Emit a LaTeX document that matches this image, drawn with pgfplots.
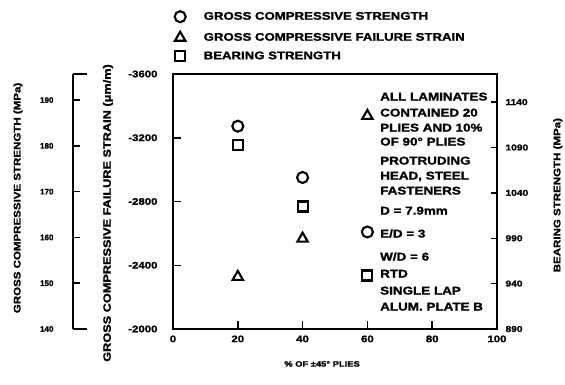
\documentclass[border=0pt]{standalone}
\usepackage{pgfplots}
\pgfplotsset{compat=1.18}
\usepackage{fontspec}
\newfontfamily\cf{Liberation Sans Bold}[FakeStretch=1.2, FakeBold=1.5]
\newfontfamily\cfn{Liberation Sans Bold}[FakeBold=1.5]
\newcommand\fs[1]{\fontsize{#1}{#1}\selectfont}
\pgfplotsset{
  mk/.style={only marks, mark size=5.5pt, line width=2.1pt, black, mark options={solid}},
  boxax/.style={at={(173pt,55pt)}, anchor=south west, scale only axis, width=324pt, height=255pt, xmin=0, xmax=100},
}
\begin{document}
\begin{tikzpicture}[x=1pt,y=1pt]
\useasboundingbox (0,0) rectangle (565,384);

% main axis: strain
\begin{axis}[boxax,
  ymin=-3600, ymax=-2000, y dir=reverse,
  xtick={0,20,40,60,80,100}, xticklabels={0,20,40,60,80,100},
  ytick={-3600,-3200,-2800,-2400,-2000}, yticklabels={-3600,-3200,-2800,-2400,-2000},
  xtick pos=lower, ytick pos=left, tick align=inside, major tick length=8pt,
  axis line style={line width=1.6pt}, tick style={line width=1.5pt, black},
  y tick label style={font=\cf\fs{9.5}, xshift=-12pt},
  x tick label style={font=\cf\fs{9.5}, yshift=-3pt},
  ylabel={GROSS COMPRESSIVE FAILURE STRAIN (μm/m)},
  ylabel style={font=\cf\fs{10.6}, at={(axis description cs:-0.2006,0.455)}, anchor=center},
  xlabel={\% OF ±45° PLIES},
  xlabel style={font=\cf\fs{7.8}, at={(axis description cs:0.46,-0.137)}, anchor=center},
  legend style={at={(axis description cs:0.0046,1.247)}, anchor=north west, draw=none, fill=none,
    inner sep=0pt, row sep=9.5pt, column sep=18pt,
    nodes={inner sep=0pt, text height=7pt, text depth=1pt, font=\cf\fs{11}}},
  legend cell align=left,
]
\addlegendimage{mk, mark=o}
\addlegendentry{GROSS COMPRESSIVE STRENGTH}
\addlegendimage{mk, mark=triangle, mark size=6pt}
\addlegendentry{GROSS COMPRESSIVE FAILURE STRAIN}
\addlegendimage{mk, mark=square, mark size=5pt}
\addlegendentry{BEARING STRENGTH}
\addplot[mk, mark=triangle, mark size=6pt, forget plot] coordinates {(20,-2327) (40,-2567) (60,-3337)};
\end{axis}

% bearing strength axis (right)
\begin{axis}[boxax,
  ymin=890, ymax=1171,
  axis x line=none, axis y line*=right, axis line style={-, line width=1.6pt},
  ytick={890,940,990,1040,1090,1140}, yticklabels={890,940,990,1040,1090,1140},
  tick align=inside, major tick length=6pt, tick style={line width=1.5pt, black},
  y tick label style={font=\cf\fs{8.5}, xshift=5pt},
  ylabel={BEARING STRENGTH (MPa)},
  ylabel style={font=\cf\fs{9.6}, at={(axis description cs:1.188,0.525)}, anchor=center, rotate=0},
]
\addplot[mk, mark=square, mark size=5pt] coordinates {(20,1093) (40,1025) (60,949)};
\end{axis}

% compressive strength data (shares left bracket scale)
\begin{axis}[boxax, ymin=140, ymax=195.7, hide axis]
\addplot[mk, mark=o] coordinates {(20,184.3) (40,173.1) (60,161.2)};
\end{axis}

% left bracket scale
\begin{axis}[at={(73pt,55pt)}, anchor=south west, scale only axis, width=14pt, height=255pt,
  xmin=0, xmax=1, ymin=140, ymax=195.7,
  axis x line=none, axis y line*=left, axis line style={-, line width=1.6pt},
  ytick={140,150,160,170,180,190}, yticklabels={140,150,160,170,180,190},
  tick align=inside, major tick length=7pt, tick style={line width=1.5pt, black},
  y tick label style={font=\cfn\fs{8}, xshift=-16pt},
  ylabel={GROSS COMPRESSIVE STRENGTH (MPa)},
  ylabel style={font=\cf\fs{9.6}, at={(axis description cs:-3.93,0.514)}, anchor=center},
  clip=false,
]
\draw[line width=1.6pt] (rel axis cs:0,0) -- (rel axis cs:1,0);
\draw[line width=1.6pt] (rel axis cs:0,1) -- (rel axis cs:1,1);
\end{axis}

% annotation block
\begin{scope}[every node/.style={anchor=west, inner sep=0pt, text height=7.5pt, text depth=0pt, font=\cf\fs{11.2}}]
\node at (380,{384-93-3.75}) {ALL LAMINATES};
\node at (380,{384-109-3.75}) {CONTAINED 20};
\node at (380,{384-124-3.75}) {PLIES AND 10\%};
\node at (380,{384-138-3.75}) {OF 90° PLIES};
\node at (380,{384-157-3.75}) {PROTRUDING};
\node at (380,{384-172-3.75}) {HEAD, STEEL};
\node at (380,{384-187-3.75}) {FASTENERS};
\node at (380,{384-207-3.75}) {D = 7.9mm};
\node at (380,{384-230-3.75}) {E/D = 3};
\node at (380,{384-253-3.75}) {W/D = 6};
\node at (380,{384-270-3.75}) {RTD};
\node at (380,{384-287-3.75}) {SINGLE LAP};
\node at (380,{384-303-3.75}) {ALUM. PLATE B};
\end{scope}
\end{tikzpicture}
\end{document}
